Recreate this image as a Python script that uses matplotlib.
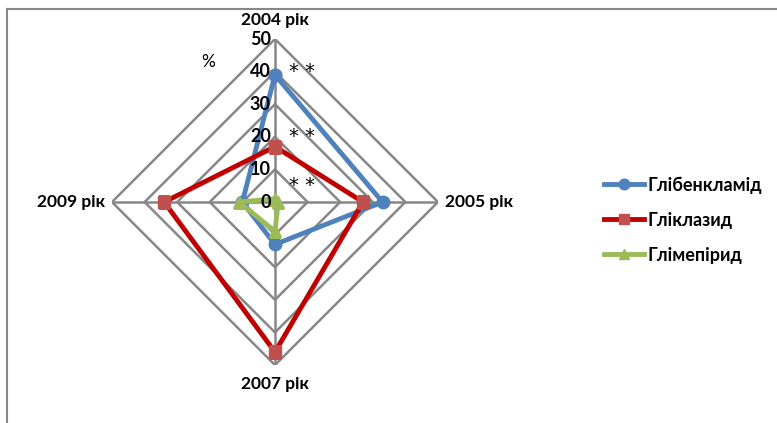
import numpy as np
import matplotlib
matplotlib.use("Agg")
import matplotlib.pyplot as plt

plt.rcParams['font.family'] = ['Lato', 'DejaVu Sans']

# data (%)
years = ['2004 рік', '2005 рік', '2007 рік', '2009 рік']
glibenclamide = [39, 33, 13, 10]
gliclazide = [17, 27, 46, 34]
glimepiride = [1, 1, 9, 11]
series_names = ['Глібенкламід', 'Гліклазид', 'Глімепірид']
r_ticks = [0, 10, 20, 30, 40, 50]
star_levels = [40, 20, 5]

grid_color = '#878787'

fig = plt.figure(figsize=(7.77, 4.23), dpi=100)
ax = fig.add_axes([0.1441, 0.137, 0.4196, 0.7707], projection='polar')
ax.set_theta_zero_location('N')
ax.set_theta_direction(-1)
ax.set_ylim(0, 50)
ax.set_xticks([])
ax.set_yticks([])
ax.grid(False)
ax.spines['polar'].set_visible(False)
ax.patch.set_alpha(0)

angles = np.linspace(0, 2 * np.pi, len(years), endpoint=False)
closed = np.append(angles, angles[0])

# diamond grid and spokes
for r in r_ticks[1:]:
    ax.plot(closed, [r] * len(closed), color=grid_color, lw=1.8, zorder=1)
for a in angles:
    ax.plot([a, a], [0, 50], color=grid_color, lw=1.8, zorder=1)


def close(vals):
    return vals + vals[:1]


l1, = ax.plot(closed, close(glibenclamide), color='#4F81BD', lw=3.5,
              marker='o', ms=9, mfc='#4F81BD', mec='#4F81BD', zorder=3)
l2, = ax.plot(closed, close(gliclazide), color='#C00000', lw=3.5,
              marker='s', ms=9, mfc='#C0504D', mec='#C0504D', zorder=3)
l3, = ax.plot(closed, close(glimepiride), color='#9BBB59', lw=3.5,
              marker='^', ms=9, mfc='#9BBB59', mec='#9BBB59', zorder=4)

# radial tick labels along the top spoke
for v in r_ticks:
    ax.annotate(str(v), xy=(0, v), xytext=(-3, 0), textcoords='offset points',
                ha='right', va='center', fontsize=13, fontweight='bold', zorder=5)

# category labels
offsets = [(0, 8, 'center', 'bottom'), (5, 0, 'left', 'center'),
           (0, -8, 'center', 'top'), (-5, 0, 'right', 'center')]
for a, lab, (dx, dy, ha, va) in zip(angles, years, offsets):
    ax.annotate(lab, xy=(a, 50), xytext=(dx, dy), textcoords='offset points',
                ha=ha, va=va, fontsize=12.5, fontweight='bold')

# significance marks
for lv in star_levels:
    ax.annotate('* *', xy=(0, lv), xytext=(10, 0), textcoords='offset points',
                ha='left', va='center', fontsize=14, family='DejaVu Sans')

fig.text(208 / 777, 1 - 62 / 423, '%', ha='center', va='center', fontsize=12.5)

fig.legend([l1, l2, l3], series_names, loc='center left',
           bbox_to_anchor=(0.757, 0.48), frameon=False, labelspacing=1.0,
           handlelength=2.2, handletextpad=0.2, markerscale=0.85,
           prop={'size': 13, 'weight': 'bold'})

# outer frame (left and top edges)
fig.add_artist(plt.Line2D([7 / 777, 7 / 777], [0, 1 - 9 / 423], color='#888888', lw=1.5))
fig.add_artist(plt.Line2D([7 / 777, 1], [1 - 9 / 423, 1 - 9 / 423], color='#888888', lw=1.5))

fig.savefig('out.png', dpi=100)
